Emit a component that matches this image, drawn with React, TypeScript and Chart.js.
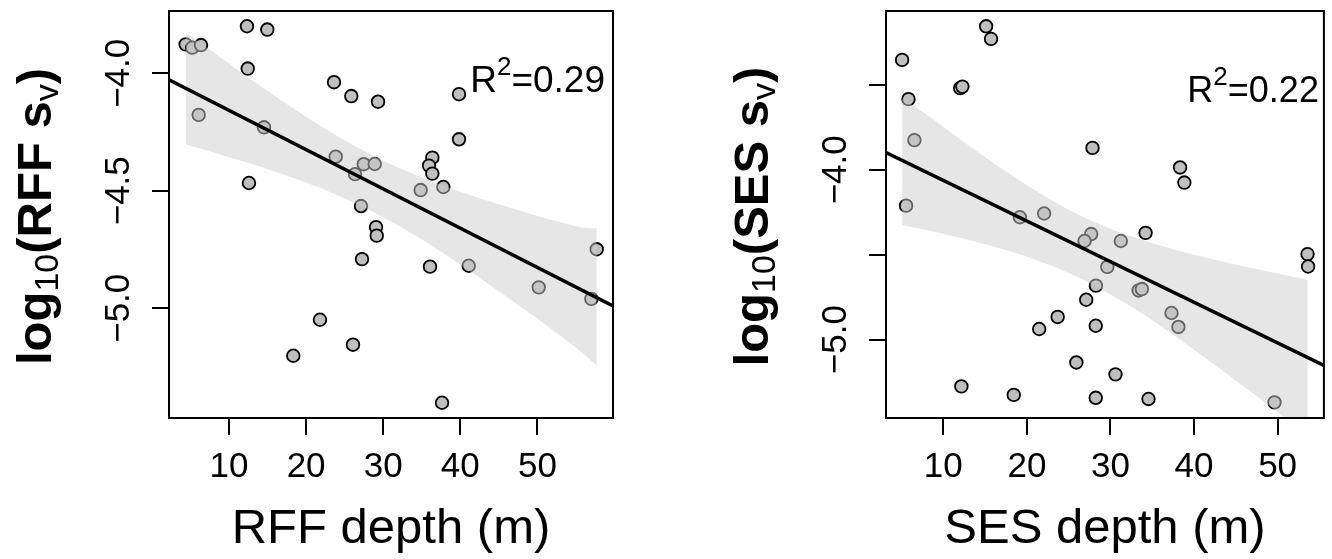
import React, { useEffect, useRef } from "react";
import { Chart, registerables } from "chart.js";

Chart.register(...registerables);

const FONT = '"Liberation Sans", Arial, Helvetica, sans-serif';

// ---------- Data: RFF panel ----------
const rffDepth = [
  4.38, 5.24, 6.37, 12.33, 14.97, 12.43, 6.07, 14.54, 12.59, 23.62, 25.86, 29.33,
  23.84, 27.47, 28.9, 26.34, 27.12, 39.83, 39.83, 36.37, 35.94, 36.37, 34.86, 37.8,
  29.07, 29.16, 27.25, 21.8, 26.08, 18.34, 36.07, 41.09, 50.17, 57.69, 56.99, 37.63,
];
const rffLogSv = [
  -3.877, -3.891, -3.88, -3.8, -3.814, -3.98, -4.177, -4.23, -4.467, -4.038, -4.097, -4.121,
  -4.355, -4.387, -4.386, -4.429, -4.565, -4.089, -4.281, -4.359, -4.393, -4.427, -4.497, -4.484,
  -4.655, -4.691, -4.791, -5.049, -5.155, -5.202, -4.823, -4.819, -4.911, -4.749, -4.96, -5.402,
];
const rffFitX = [2.22, 59.8];
const rffFitY = [-4.028, -4.99];
const rffBandX = [4.38, 8, 12, 16, 20, 24, 28, 32, 36, 40, 44, 48, 52, 56, 57.69];
const rffBandUpper = [
  -3.826, -3.912, -4.006, -4.098, -4.185, -4.266, -4.339, -4.402, -4.456, -4.504, -4.547,
  -4.587, -4.626, -4.657, -4.66,
];
const rffBandLower = [
  -4.303, -4.337, -4.377, -4.419, -4.465, -4.518, -4.579, -4.649, -4.728, -4.814, -4.905,
  -4.998, -5.093, -5.195, -5.245,
];
const rffYTicks = [-4.0, -4.5, -5.0];
const rffYTickLabels = ["\u22124.0", "\u22124.5", "\u22125.0"];

// ---------- Data: SES panel ----------
const sesDepth = [
  5.07, 5.83, 6.54, 5.54, 12.01, 12.28, 15.12, 15.71, 27.85, 38.33, 38.84, 19.16,
  22.06, 27.69, 26.9, 29.62, 28.26, 27.1, 23.68, 21.47, 28.24, 25.92, 12.16, 18.43,
  28.24, 34.2, 31.24, 33.37, 33.76, 37.3, 38.13, 30.6, 34.55, 49.63, 53.58, 53.65,
];
const sesLogSv = [
  -3.353, -3.584, -3.825, -4.211, -3.519, -3.51, -3.155, -3.229, -3.871, -3.986, -4.075, -4.279,
  -4.257, -4.378, -4.419, -4.571, -4.682, -4.765, -4.866, -4.937, -4.918, -5.134, -5.275, -5.325,
  -5.342, -4.371, -4.419, -4.71, -4.702, -4.843, -4.925, -5.204, -5.349, -5.369, -4.496, -4.569,
];
const sesFitX = [3.14, 55.54];
const sesFitY = [-3.898, -5.151];
const sesBandX = [5.07, 8, 12, 16, 20, 24, 28, 32, 36, 40, 44, 48, 52, 53.6];
const sesBandUpper = [
  -3.58, -3.675, -3.82, -3.96, -4.091, -4.208, -4.306, -4.384, -4.447, -4.5, -4.547, -4.59,
  -4.631, -4.647,
];
const sesBandLower = [
  -4.325, -4.354, -4.4, -4.451, -4.511, -4.586, -4.679, -4.792, -4.92, -5.059, -5.203, -5.351,
  -5.502, -5.562,
];
const sesYTicks = [-3.5, -4.0, -4.5, -5.0];
const sesYTickLabels = ["", "\u22124.0", "", "\u22125.0"];

const depthTicks = [10, 20, 30, 40, 50];

// ---------- helpers ----------
interface Run {
  text: string;
  size: number;
  bold?: boolean;
  dy?: number;
}

const fontStr = (r: Run) => `${r.bold ? "bold " : ""}${r.size}px ${FONT}`;

function drawRuns(
  ctx: CanvasRenderingContext2D,
  runs: Run[],
  x: number,
  y: number,
  align: "center" | "right"
) {
  const widths = runs.map((r) => {
    ctx.font = fontStr(r);
    return ctx.measureText(r.text).width;
  });
  const total = widths.reduce((a, b) => a + b, 0);
  let cx = align === "center" ? x - total / 2 : x - total;
  ctx.textAlign = "left";
  ctx.textBaseline = "alphabetic";
  runs.forEach((r, i) => {
    ctx.font = fontStr(r);
    ctx.fillText(r.text, cx, y + (r.dy || 0));
    cx += widths[i];
  });
}

interface PanelSpec {
  xs: number[];
  ys: number[];
  fitX: number[];
  fitY: number[];
  bandX: number[];
  bandUpper: number[];
  bandLower: number[];
  xMin: number;
  xMax: number;
  yMin: number;
  yMax: number;
  yTicks: number[];
  yTickLabels: string[];
  xTitle: string;
  yTitleRuns: Run[];
  r2Runs: Run[];
  r2RightInset: number;
  r2Baseline: number;
  padRight: number;
  yAxisWidth: number;
}

const pts = (xs: number[], ys: number[]) => xs.map((x, i) => ({ x, y: ys[i] }));

function Panel({ spec, left }: { spec: PanelSpec; left: number }) {
  const ref = useRef<HTMLCanvasElement>(null);

  useEffect(() => {
    const canvas = ref.current;
    if (!canvas) return;

    const decor = {
      id: "decor",
      afterDraw(chart: any) {
        const { ctx, chartArea: a } = chart;
        ctx.save();
        ctx.strokeStyle = "#000";
        ctx.lineWidth = 2;
        ctx.strokeRect(a.left, a.top, a.right - a.left, a.bottom - a.top);
        ctx.fillStyle = "#000";
        const ys = chart.scales.y;
        spec.yTicks.forEach((v, i) => {
          const label = spec.yTickLabels[i];
          if (!label) return;
          const py = ys.getPixelForValue(v);
          ctx.save();
          ctx.translate(a.left - 40, py);
          ctx.rotate(-Math.PI / 2);
          ctx.font = `35px ${FONT}`;
          ctx.textAlign = "center";
          ctx.textBaseline = "alphabetic";
          ctx.fillText(label, 0, 0);
          ctx.restore();
        });
        ctx.save();
        ctx.translate(a.left - 118, (a.top + a.bottom) / 2 + 2);
        ctx.rotate(-Math.PI / 2);
        drawRuns(ctx, spec.yTitleRuns, 0, 0, "center");
        ctx.restore();
        drawRuns(ctx, spec.r2Runs, a.right - spec.r2RightInset, spec.r2Baseline, "right");
        ctx.restore();
      },
    };

    const chart = new Chart(canvas, {
      type: "line",
      data: {
        datasets: [
          {
            label: "points",
            data: pts(spec.xs, spec.ys),
            showLine: false,
            pointRadius: 6.3,
            pointBackgroundColor: "#bfbfbf",
            pointBorderColor: "#000",
            pointBorderWidth: 1.8,
            order: 3,
          } as any,
          {
            label: "upper",
            data: pts(spec.bandX, spec.bandUpper),
            borderColor: "rgba(0,0,0,0)",
            borderWidth: 1,
            pointRadius: 0,
            fill: false,
            cubicInterpolationMode: "monotone",
            order: 2,
          },
          {
            label: "lower",
            data: pts(spec.bandX, spec.bandLower),
            borderColor: "rgba(0,0,0,0)",
            borderWidth: 1,
            pointRadius: 0,
            fill: "-1",
            backgroundColor: "rgba(204,204,204,0.49)",
            cubicInterpolationMode: "monotone",
            order: 1,
          },
          {
            label: "fit",
            data: pts(spec.fitX, spec.fitY),
            borderColor: "#000",
            borderWidth: 3.6,
            pointRadius: 0,
            fill: false,
            order: 0,
          },
        ],
      },
      options: {
        animation: false,
        responsive: false,
        maintainAspectRatio: false,
        events: [],
        layout: { padding: { left: 0, right: spec.padRight, top: 11, bottom: 0 } },
        plugins: {
          legend: { display: false },
          tooltip: { enabled: false },
          filler: { drawTime: "beforeDatasetDraw" },
        },
        scales: {
          x: {
            type: "linear",
            min: spec.xMin,
            max: spec.xMax,
            afterBuildTicks: (s: any) => {
              s.ticks = depthTicks.map((v) => ({ value: v }));
            },
            afterFit: (s: any) => {
              s.height = 141;
            },
            grid: {
              drawOnChartArea: false,
              drawTicks: true,
              tickLength: 17,
              color: "#000",
              lineWidth: 2,
            },
            border: { display: false },
            ticks: {
              font: { family: FONT, size: 35 },
              color: "#000",
              padding: 11,
              maxRotation: 0,
              autoSkip: false,
              callback: (v: any) => String(v),
            },
            title: {
              display: true,
              text: spec.xTitle,
              font: { family: FONT, size: 49 },
              color: "#000",
              padding: 0,
            },
          },
          y: {
            type: "linear",
            min: spec.yMin,
            max: spec.yMax,
            afterBuildTicks: (s: any) => {
              s.ticks = spec.yTicks.map((v) => ({ value: v }));
            },
            afterFit: (s: any) => {
              s.width = spec.yAxisWidth;
            },
            grid: {
              drawOnChartArea: false,
              drawTicks: true,
              tickLength: 17,
              color: "#000",
              lineWidth: 2,
            },
            border: { display: false },
            ticks: { display: false },
          },
        },
      } as any,
      plugins: [decor],
    });

    return () => chart.destroy();
  }, [spec]);

  return (
    <canvas
      ref={ref}
      width={666}
      height={559}
      style={{ position: "absolute", left, top: 0, display: "block" }}
    />
  );
}

const rffSpec: PanelSpec = {
  xs: rffDepth,
  ys: rffLogSv,
  fitX: rffFitX,
  fitY: rffFitY,
  bandX: rffBandX,
  bandUpper: rffBandUpper,
  bandLower: rffBandLower,
  xMin: 2.22,
  xMax: 59.8,
  yMin: -5.467,
  yMax: -3.735,
  yTicks: rffYTicks,
  yTickLabels: rffYTickLabels,
  xTitle: "RFF depth (m)",
  yTitleRuns: [
    { text: "log", size: 49, bold: true },
    { text: "10", size: 34, dy: 7 },
    { text: "(RFF s", size: 49, bold: true },
    { text: "v", size: 34, dy: 7 },
    { text: ")", size: 49, bold: true },
  ],
  r2Runs: [
    { text: "R", size: 37 },
    { text: "2", size: 26, dy: -17 },
    { text: "=0.29", size: 37 },
  ],
  r2RightInset: 8,
  r2Baseline: 92,
  padRight: 53,
  yAxisWidth: 169,
};

const sesSpec: PanelSpec = {
  xs: sesDepth,
  ys: sesLogSv,
  fitX: sesFitX,
  fitY: sesFitY,
  bandX: sesBandX,
  bandUpper: sesBandUpper,
  bandLower: sesBandLower,
  xMin: 3.14,
  xMax: 55.54,
  yMin: -5.461,
  yMax: -3.065,
  yTicks: sesYTicks,
  yTickLabels: sesYTickLabels,
  xTitle: "SES depth (m)",
  yTitleRuns: [
    { text: "log", size: 49, bold: true },
    { text: "10", size: 34, dy: 7 },
    { text: "(SES s", size: 49, bold: true },
    { text: "v", size: 34, dy: 7 },
    { text: ")", size: 49, bold: true },
  ],
  r2Runs: [
    { text: "R", size: 36 },
    { text: "2", size: 26, dy: -17 },
    { text: "=0.22", size: 36 },
  ],
  r2RightInset: 5,
  r2Baseline: 102,
  padRight: 3,
  yAxisWidth: 220,
};

export default function App() {
  return (
    <div
      style={{
        position: "absolute",
        left: 0,
        top: 0,
        width: 1332,
        height: 559,
        background: "#fff",
        overflow: "hidden",
      }}
    >
      <Panel spec={rffSpec} left={0} />
      <Panel spec={sesSpec} left={666} />
    </div>
  );
}
